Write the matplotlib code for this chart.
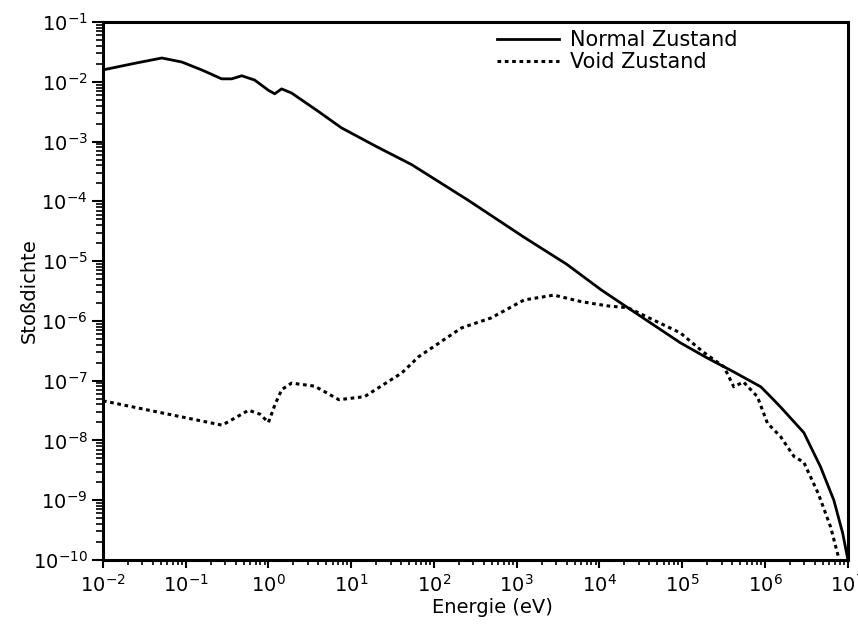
import matplotlib
matplotlib.use("Agg")
import matplotlib.pyplot as plt
from matplotlib.ticker import LogLocator, NullFormatter

# Normal Zustand (solid line)
energy_normal = [1e-2, 0.0243, 0.0515, 0.0898, 0.156, 0.272, 0.36, 0.475, 0.68,
                 1.0, 1.19, 1.44, 1.9, 2.5, 4.0, 7.6, 20, 54, 257, 1230, 4000,
                 1.05e4, 2.2e4, 9.5e4, 2.0e5, 4.2e5, 8.9e5, 1.2e6, 1.55e6,
                 2.95e6, 4.7e6, 6.8e6, 8.7e6, 1e7]
dens_normal = [1.58e-2, 2.04e-2, 2.5e-2, 2.14e-2, 1.58e-2, 1.12e-2, 1.12e-2,
               1.26e-2, 1.07e-2, 7.2e-3, 6.3e-3, 7.6e-3, 6.5e-3, 5.0e-3, 3.2e-3,
               1.7e-3, 8.3e-4, 4.1e-4, 1.05e-4, 2.5e-5, 8.9e-6, 3.3e-6, 1.66e-6,
               4.3e-7, 2.4e-7, 1.4e-7, 7.9e-8, 5.2e-8, 3.6e-8, 1.35e-8, 3.6e-9,
               1.0e-9, 2.8e-10, 1.05e-10]

# Void Zustand (dotted line)
energy_void = [0.01, 0.051, 0.275, 0.4, 0.575, 0.79, 1.0, 1.2, 1.45, 1.9, 3.6,
               5.0, 7.1, 14.5, 41, 65, 214, 490, 1230, 2820, 6000, 1.26e4,
               2.2e4, 9.5e4, 1.8e5, 3.2e5, 4.2e5, 5.5e5, 8.1e5, 1.07e6, 1.55e6,
               2.24e6, 2.95e6, 4.4e6, 6.2e6, 7.6e6, 7.9e6]
dens_void = [4.6e-8, 2.9e-8, 1.8e-8, 2.4e-8, 3.2e-8, 2.75e-8, 2.0e-8, 4.0e-8,
             7.1e-8, 9.1e-8, 8.1e-8, 6.3e-8, 4.8e-8, 5.4e-8, 1.35e-7, 2.5e-7,
             7.6e-7, 1.12e-6, 2.24e-6, 2.7e-6, 2.1e-6, 1.78e-6, 1.66e-6, 6.3e-7,
             3.0e-7, 1.7e-7, 7.9e-8, 9.5e-8, 5.4e-8, 1.95e-8, 1.15e-8, 5.4e-9,
             4.3e-9, 1.3e-9, 3.6e-10, 1.23e-10, 1.0e-10]

fig = plt.figure(figsize=(8.58, 6.38), dpi=100)
ax = fig.add_axes([0.120, 0.1223, 0.868, 0.8432])

ax.plot(energy_normal, dens_normal, "k-", lw=2, label="Normal Zustand")
ax.plot(energy_void, dens_void, color="k", lw=2.2, linestyle=(0, (1.2, 1.2)),
        label="Void Zustand")

ax.set_xscale("log")
ax.set_yscale("log")
ax.set_xlim(1e-2, 1e7)
ax.set_ylim(1e-10, 1e-1)

for axis in (ax.xaxis, ax.yaxis):
    axis.set_major_locator(LogLocator(base=10, numticks=20))
    axis.set_minor_locator(LogLocator(base=10, subs=range(2, 10), numticks=200))
    axis.set_minor_formatter(NullFormatter())

for s in ax.spines.values():
    s.set_linewidth(2.2)

ax.tick_params(axis="x", which="major", direction="out", length=6, width=1.5,
               labelsize=14, pad=4)
ax.tick_params(axis="x", which="minor", direction="out", length=3.5, width=1.2)
ax.tick_params(axis="y", which="major", direction="out", length=8, width=1.5,
               labelsize=14, pad=3)
ax.tick_params(axis="y", which="minor", direction="out", length=5, width=1.2)

ax.set_xlabel("Energie (eV)", fontsize=14)
ax.xaxis.set_label_coords(0.523, -0.07)
ax.set_ylabel("Stoßdichte", fontsize=14)
ax.yaxis.set_label_coords(-0.086, 0.5)

ax.legend(loc="upper left", bbox_to_anchor=(0.529, 0.985), frameon=False,
          fontsize=15, handlelength=3.0, handletextpad=0.5, borderpad=0,
          borderaxespad=0, labelspacing=0.1)

fig.savefig("out.png", dpi=100)
